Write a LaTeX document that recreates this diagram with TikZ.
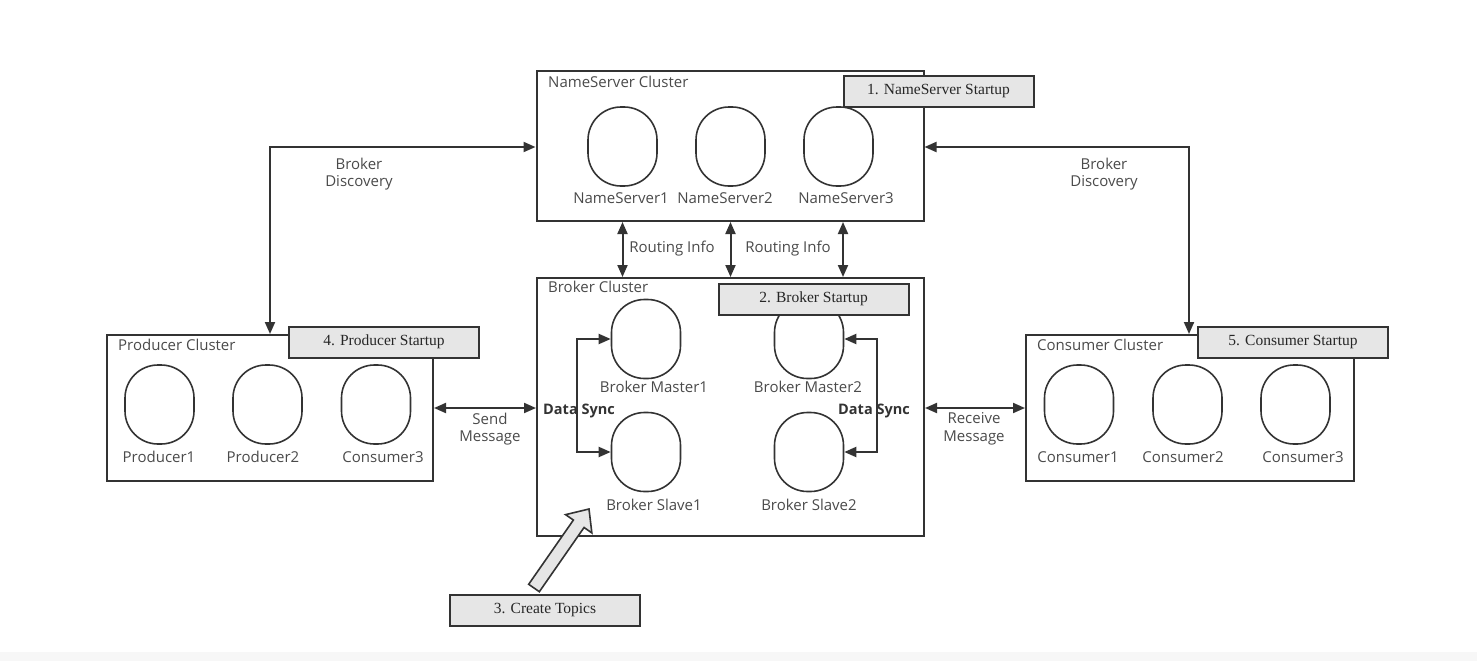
\documentclass[tikz,border=0pt]{standalone}
\usepackage{fontspec}
\setmainfont{Open Sans}
\newfontfamily\serifstart{Liberation Serif}
\usetikzlibrary{arrows.meta,calc}
\definecolor{lc}{HTML}{333333}
\definecolor{tc}{HTML}{4A4A4A}
\definecolor{sf}{HTML}{E6E6E6}
\tikzset{
 cluster/.style={draw=lc, line width=2pt, inner sep=0pt},
 srv/.style={draw=lc, line width=1.6pt, rounded corners=33pt, minimum width=69pt, minimum height=79pt, inner sep=0pt},
 lbl/.style={text=tc, font=\fontsize{15}{17.5}\selectfont, inner sep=0pt, align=center},
 boldlbl/.style={text=lc, font=\bfseries\fontsize{14.5}{17}\selectfont, inner sep=0pt},
 startbox/.style={draw=lc, line width=2pt, fill=sf, minimum width=190pt, minimum height=31pt, font=\serifstart\fontsize{15.5}{17}\selectfont, text=black!85, inner sep=0pt},
 conn/.style={draw=lc, line width=2pt, {Triangle[length=12pt,width=10pt]}-{Triangle[length=12pt,width=10pt]}},
}
\begin{document}
\begin{tikzpicture}[x=1pt,y=-1pt]
\useasboundingbox (0,0) rectangle (1477,661);
\fill[gray!6] (0,652) rectangle (1477,661);

% clusters
\node[cluster, minimum width=387pt, minimum height=150pt] (ns) at (730,146) {};
\node[cluster, minimum width=387pt, minimum height=258pt] (bc) at (730.5,407) {};
\node[cluster, minimum width=326pt, minimum height=146pt] (pc) at (270,408) {};
\node[cluster, minimum width=328pt, minimum height=146pt] (cc) at (1190,408) {};

\node[lbl, anchor=west] (nsl) at (548,82) {NameServer Cluster};
\node[lbl, anchor=west] (bcl) at (548,287) {Broker Cluster};
\node[lbl, anchor=west] (pcl) at (118,345) {Producer Cluster};
\node[lbl, anchor=west] (ccl) at (1037,345) {Consumer Cluster};

% name servers
\node[srv] (ns1) at (622.5,146.5) {};
\node[srv] (ns2) at (730.5,146.5) {};
\node[srv] (ns3) at (838.5,146.5) {};
\node[lbl] (ns1l) at (621,198) {NameServer1};
\node[lbl] (ns2l) at (725,198) {NameServer2};
\node[lbl] (ns3l) at (846,198) {NameServer3};

% brokers
\node[srv] (m1) at (646,339) {};
\node[srv] (s1) at (646,452) {};
\node[srv] (m2) at (809,339) {};
\node[srv] (s2) at (809,452) {};
\node[lbl] (m1l) at (654,387) {Broker Master1};
\node[lbl] (s1l) at (654,505) {Broker Slave1};
\node[lbl] (m2l) at (808,387) {Broker Master2};
\node[lbl] (s2l) at (809,505) {Broker Slave2};

% producers
\node[srv] (p1) at (159.5,404.5) {};
\node[srv] (p2) at (267.5,404.5) {};
\node[srv] (p3) at (376,404.5) {};
\node[lbl] (p1l) at (159,457) {Producer1};
\node[lbl] (p2l) at (263,457) {Producer2};
\node[lbl] (p3l) at (383,457) {Consumer3};

% consumers
\node[srv] (c1) at (1079,404.5) {};
\node[srv] (c2) at (1187.5,404.5) {};
\node[srv] (c3) at (1295.5,404.5) {};
\node[lbl] (c1l) at (1078,457) {Consumer1};
\node[lbl] (c2l) at (1183,457) {Consumer2};
\node[lbl] (c3l) at (1303,457) {Consumer3};

% data sync
\draw[conn] (m1.west) -- ++(-34,0) |- (s1.west);
\draw[conn] (m2.east) -- ++(33,0) |- (s2.east);
\node[boldlbl] (dsl) at (579,411) {Data Sync};
\node[boldlbl] (dsr) at (874,411) {Data Sync};

% routing info
\coordinate (r3) at (843,0);
\draw[conn] (ns.south -| ns1) -- (bc.north -| ns1);
\draw[conn] (ns.south -| ns2) -- (bc.north -| ns2);
\draw[conn] (ns.south -| r3) -- (bc.north -| r3);
\node[lbl] (ri1) at (672,249) {Routing Info};
\node[lbl] (ri2) at (788,249) {Routing Info};

% broker discovery
\coordinate (bdl) at (270,147);
\coordinate (bdr) at (1189,147);
\draw[conn] (pc.north -| bdl) |- (ns.west |- bdl);
\draw[conn] (cc.north -| bdr) |- (ns.east |- bdr);
\node[lbl] (bdll) at (359,174) {Broker\\Discovery};
\node[lbl] (bdrl) at (1104,174) {Broker\\Discovery};

% messages
\draw[conn] (pc.east) -- (pc.east -| bc.west);
\draw[conn] (cc.west) -- (cc.west -| bc.east);
\node[lbl] (sml) at (490,429) {Send\\Message};
\node[lbl] (rml) at (974,429) {Receive\\Message};

% startup boxes
\node[startbox] (st1) at (938.5,91.5) {1. NameServer Startup};
\node[startbox] (st2) at (813.5,299) {2. Broker Startup};
\node[startbox] (st4) at (384,342) {4. Producer Startup};
\node[startbox] (st5) at (1293,342) {5. Consumer Startup};
\node[startbox] (st3) at (545,610) {3. Create Topics};

% create topics arrow
\coordinate (ta) at (534,588);
\coordinate (tb) at (589,509);
\coordinate (hb) at ($(tb)!18pt!(ta)$);
\filldraw[draw=lc, fill=sf, line width=1.6pt, line join=miter]
  ($(ta)!6.5pt!90:(tb)$) -- ($(hb)!6.5pt!90:(tb)$) -- ($(hb)!16pt!90:(tb)$)
  -- (tb) -- ($(hb)!16pt!-90:(tb)$) -- ($(hb)!6.5pt!-90:(tb)$)
  -- ($(ta)!6.5pt!-90:(tb)$) -- cycle;
\end{tikzpicture}
\end{document}
